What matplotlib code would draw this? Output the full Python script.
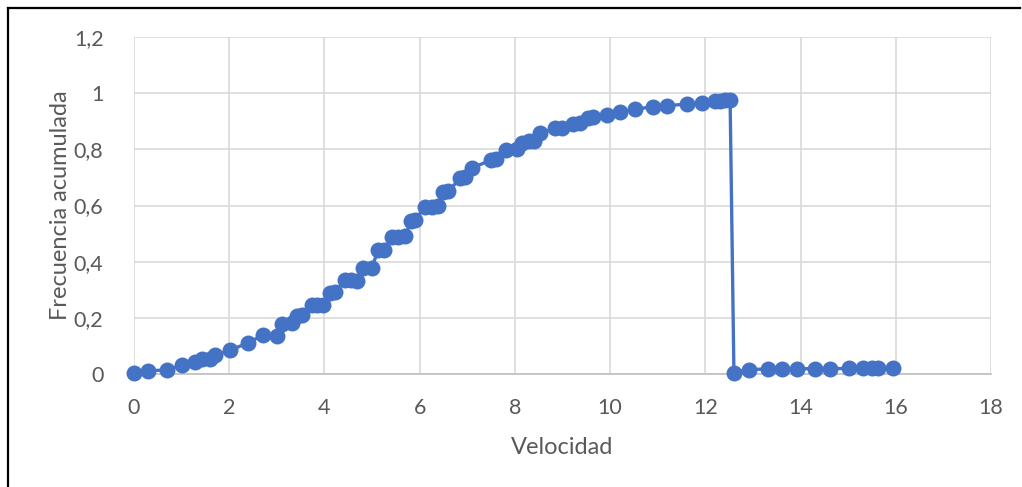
import matplotlib
matplotlib.use("Agg")
import matplotlib.pyplot as plt
from matplotlib.lines import Line2D
from matplotlib.ticker import FuncFormatter, MultipleLocator

# velocidad vs frecuencia acumulada
velocidad = [
    0.0, 0.3, 0.69, 1.0, 1.28, 1.42, 1.6, 1.7, 2.02, 2.4, 2.71, 3.0, 3.1, 3.31,
    3.42, 3.52, 3.73, 3.85, 3.98, 4.12, 4.22, 4.43, 4.55, 4.68, 4.82, 4.99,
    5.13, 5.25, 5.42, 5.55, 5.69, 5.82, 5.9, 6.11, 6.25, 6.39, 6.5, 6.6, 6.85,
    6.95, 7.09, 7.5, 7.6, 7.82, 8.04, 8.15, 8.3, 8.4, 8.53, 8.84, 8.99, 9.22,
    9.37, 9.54, 9.64, 9.94, 10.21, 10.53, 10.91, 11.2, 11.62, 11.93, 12.2,
    12.3, 12.42, 12.52,
    12.6, 12.92, 13.32, 13.61, 13.93, 14.31, 14.62, 15.02, 15.32, 15.5, 15.63,
    15.95,
]
frecuencia = [
    0.005, 0.012, 0.014, 0.032, 0.042, 0.054, 0.052, 0.066, 0.085, 0.111,
    0.139, 0.137, 0.178, 0.18, 0.205, 0.21, 0.246, 0.246, 0.244, 0.288, 0.293,
    0.333, 0.333, 0.332, 0.378, 0.378, 0.44, 0.442, 0.489, 0.489, 0.49, 0.545,
    0.547, 0.596, 0.596, 0.598, 0.647, 0.65, 0.697, 0.7, 0.733, 0.762, 0.765,
    0.798, 0.8, 0.822, 0.83, 0.83, 0.857, 0.875, 0.877, 0.891, 0.895, 0.912,
    0.914, 0.922, 0.932, 0.943, 0.952, 0.956, 0.961, 0.964, 0.972, 0.973,
    0.975, 0.976,
    0.005, 0.016, 0.018, 0.018, 0.019, 0.019, 0.019, 0.02, 0.02, 0.02, 0.02,
    0.021,
]

azul = "#4472C4"
gris_texto = "#595959"

plt.rcParams["font.family"] = ["Lato", "DejaVu Sans"]

fig = plt.figure(figsize=(10.22, 4.87), dpi=100)
ax = fig.add_axes([0.1311, 0.232, 0.8386, 0.692])

ax.plot(velocidad, frecuencia, color=azul, linewidth=2.4, marker="o",
        markersize=11.5, markeredgewidth=0, zorder=3, clip_on=False)

ax.set_xlim(0, 18)
ax.set_ylim(0, 1.2)
ax.xaxis.set_major_locator(MultipleLocator(2))
ax.yaxis.set_major_locator(MultipleLocator(0.2))


def coma(v, pos):
    s = f"{v:.1f}".rstrip("0").rstrip(".")
    return s.replace(".", ",")


ax.yaxis.set_major_formatter(FuncFormatter(coma))
ax.xaxis.set_major_formatter(FuncFormatter(coma))

ax.grid(True, color="#D9D9D9", linewidth=1.2, zorder=0)
ax.set_axisbelow(True)
for lado in ("top", "right", "left"):
    ax.spines[lado].set_visible(False)
ax.spines["bottom"].set_color("#BFBFBF")
ax.spines["bottom"].set_linewidth(1.2)
ax.tick_params(length=0, labelsize=15.5, colors=gris_texto)
ax.tick_params(axis="x", pad=17)
ax.tick_params(axis="y", pad=22)

ax.set_xlabel("Velocidad", fontsize=17, color=gris_texto, labelpad=14)
ax.set_ylabel("Frecuencia acumulada", fontsize=17, color=gris_texto,
              labelpad=2)

# marco exterior (solo borde superior e izquierdo)
fig.add_artist(Line2D([8 / 1022, 1020 / 1022], [1 - 8 / 487, 1 - 8 / 487],
                      color="black", linewidth=1.6))
fig.add_artist(Line2D([8 / 1022, 8 / 1022], [0, 1 - 8 / 487],
                      color="black", linewidth=1.6))

fig.savefig("out.png", dpi=100)
